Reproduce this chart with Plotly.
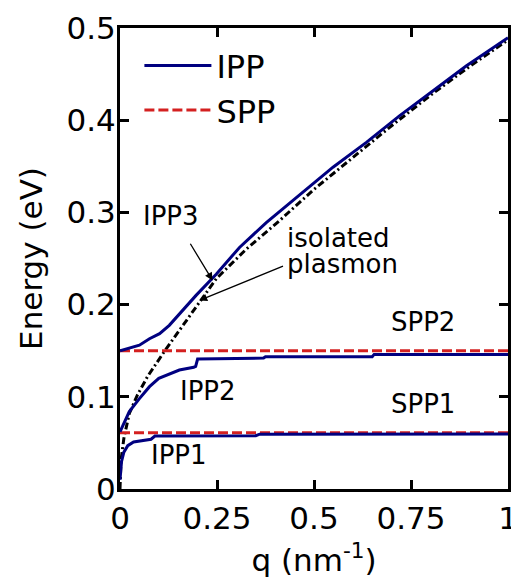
import plotly.graph_objects as go

# ---- data ----
q_ipp1 = [0, 0.004, 0.01, 0.02, 0.035, 0.06, 0.08, 0.09, 0.35, 0.36, 1.0]
e_ipp1 = [0.01, 0.03, 0.04, 0.047, 0.051, 0.053, 0.054, 0.0575, 0.0578, 0.0595, 0.0597]

q_ipp2 = [0, 0.024, 0.05, 0.076, 0.10, 0.127, 0.153, 0.19, 0.195, 0.2, 0.37, 0.375, 0.65, 0.655, 1.0]
e_ipp2 = [0.062, 0.084, 0.098, 0.111, 0.12, 0.125, 0.129, 0.132, 0.133, 0.141, 0.142, 0.1435, 0.1435, 0.146, 0.146]

q_ipp3 = [0, 0.05, 0.076, 0.102, 0.127, 0.153, 0.196, 0.248, 0.308, 0.377, 0.446, 0.549, 0.635, 0.721, 0.807, 0.893, 1.0]
e_ipp3 = [0.15, 0.156, 0.163, 0.1685, 0.1775, 0.19, 0.21, 0.233, 0.262, 0.289, 0.313, 0.349, 0.376, 0.405, 0.432, 0.459, 0.4895]

q_iso = [0, 0.0025, 0.01, 0.024, 0.045, 0.071, 0.114, 0.157, 0.209, 0.248, 0.325, 0.411, 0.5, 0.6, 0.7, 0.8, 0.9, 1.0]
e_iso = [0, 0.031, 0.055, 0.082, 0.102, 0.122, 0.149, 0.174, 0.205, 0.228, 0.26, 0.291, 0.325, 0.36, 0.394, 0.427, 0.458, 0.487]

q_spp = [0, 1.0]
e_spp1 = [0.061, 0.061]
e_spp2 = [0.15, 0.15]

x_tickvals = [0, 0.25, 0.5, 0.75, 1]
x_ticktext = ["0", "0.25", "0.5", "0.75", "1"]
y_tickvals = [0, 0.1, 0.2, 0.3, 0.4, 0.5]
y_ticktext = ["0", "0.1", "0.2", "0.3", "0.4", "0.5"]

BLUE = "#000080"
RED = "#d42020"
FONT = "DejaVu Sans"

fig = go.Figure()

# isolated plasmon (black dash-dot)
fig.add_trace(go.Scatter(x=q_iso, y=e_iso, mode="lines", showlegend=False,
                         line=dict(color="black", width=3, dash="7px,3px,2px,3px")))
# SPP lines
fig.add_trace(go.Scatter(x=q_spp, y=e_spp1, mode="lines", name="SPP", showlegend=False,
                         line=dict(color=RED, width=3, dash="10px,4px")))
fig.add_trace(go.Scatter(x=q_spp, y=e_spp2, mode="lines", name="SPP", showlegend=False,
                         line=dict(color=RED, width=3, dash="10px,4px")))
# IPP lines
fig.add_trace(go.Scatter(x=q_ipp1, y=e_ipp1, mode="lines", name="IPP", showlegend=False,
                         line=dict(color=BLUE, width=3)))
fig.add_trace(go.Scatter(x=q_ipp2, y=e_ipp2, mode="lines", name="IPP", showlegend=False,
                         line=dict(color=BLUE, width=3)))
fig.add_trace(go.Scatter(x=q_ipp3, y=e_ipp3, mode="lines", name="IPP", showlegend=True,
                         line=dict(color=BLUE, width=3), legendrank=1))
# legend entry for SPP
fig.add_trace(go.Scatter(x=[None], y=[None], mode="lines", name="SPP", showlegend=True,
                         line=dict(color=RED, width=3, dash="10px,4px"), legendrank=2))

ann_font = dict(family=FONT, size=26, color="black")
labels = [
    ("IPP3", 0.1305, 0.2965, "center"),
    ("isolated", 0.426, 0.2725, "left"),
    ("plasmon", 0.426, 0.2445, "left"),
    ("SPP2", 0.781, 0.1807, "center"),
    ("SPP1", 0.781, 0.092, "center"),
    ("IPP2", 0.227, 0.106, "center"),
    ("IPP1", 0.153, 0.0368, "center"),
]
for t, x, y, xa in labels:
    fig.add_annotation(x=x, y=y, text=t, showarrow=False, xanchor=xa, yanchor="middle",
                       font=ann_font)

arrows = [
    # (tail_x, tail_y, head_x, head_y)
    (0.179, 0.2676, 0.2385, 0.2262),
    (0.424, 0.2424, 0.2047, 0.2045),
]
for tx, ty, hx, hy in arrows:
    fig.add_annotation(x=hx, y=hy, ax=tx, ay=ty, axref="x", ayref="y", xref="x", yref="y",
                       text="", showarrow=True, arrowhead=2, arrowsize=1.2, arrowwidth=1.3,
                       arrowcolor="black")

axis_common = dict(showline=True, linewidth=3, linecolor="black", mirror="ticks",
                   ticks="inside", ticklen=9, tickwidth=2.5, tickcolor="black",
                   showgrid=False, zeroline=False, automargin=False,
                   tickfont=dict(family=FONT, size=31, color="black"))

fig.update_layout(
    width=511, height=578,
    margin=dict(l=112, r=11, t=20, b=97),
    paper_bgcolor="white", plot_bgcolor="white",
    font=dict(family=FONT, color="black"),
    xaxis=dict(range=[0, 1], tickvals=x_tickvals, ticktext=x_ticktext,
               title=dict(text="q (nm<sup>-1</sup>)", font=dict(family=FONT, size=31)),
               **axis_common),
    yaxis=dict(range=[0, 0.5], tickvals=y_tickvals, ticktext=y_ticktext,
               title=dict(text="Energy (eV)", font=dict(family=FONT, size=31)),
               ticklabelstandoff=-5,
               **axis_common),
    legend=dict(x=0.05, y=0.978, xanchor="left", yanchor="top",
                font=dict(family=FONT, size=32, color="black"),
                bgcolor="rgba(0,0,0,0)", itemwidth=67, tracegroupgap=0),
)

fig.write_html("out.html")
